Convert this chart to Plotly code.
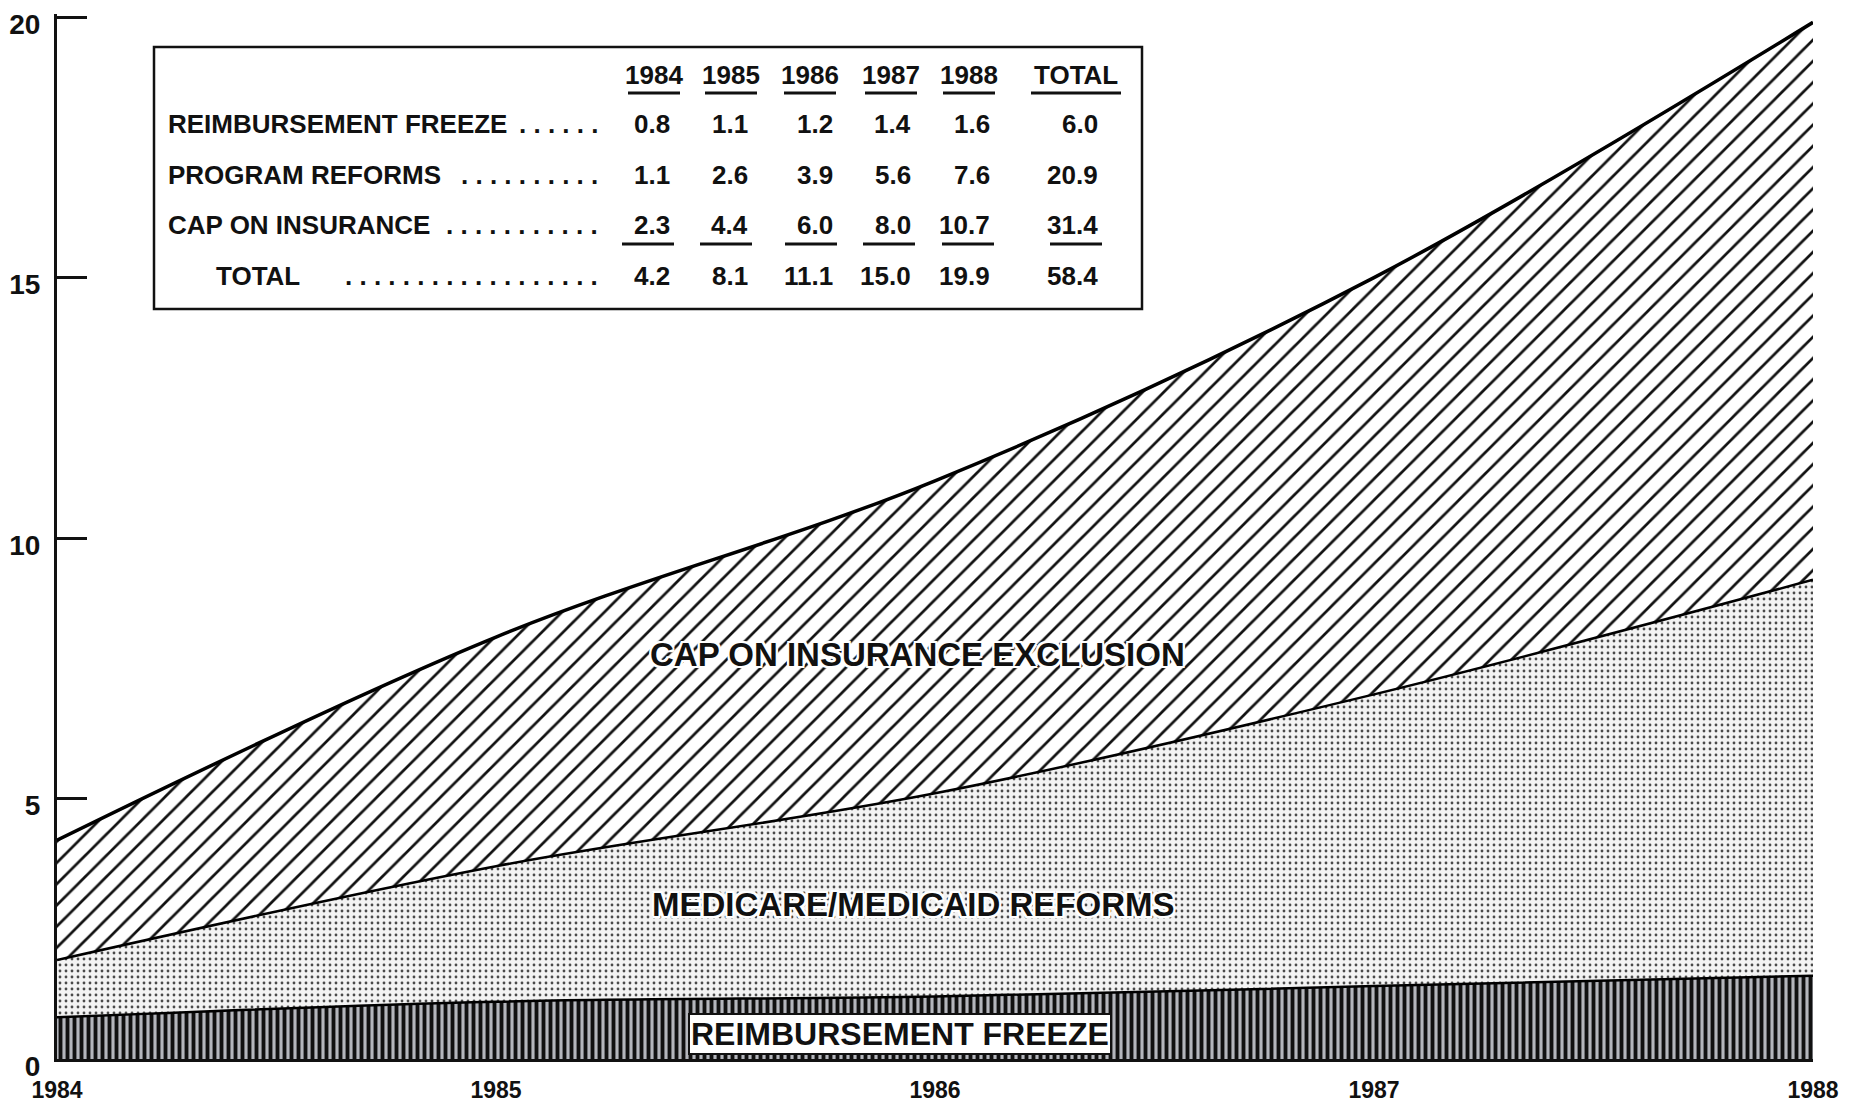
import plotly.graph_objects as go

# ---------------- data ----------------
years = [1984, 1985, 1986, 1987, 1988]
freeze = [0.8, 1.1, 1.2, 1.4, 1.6]
program = [1.1, 2.6, 3.9, 5.6, 7.6]
cap = [2.3, 4.4, 6.0, 8.0, 10.7]
year_totals = [4.2, 8.1, 11.1, 15.0, 19.9]

table_headers = ["1984", "1985", "1986", "1987", "1988", "TOTAL"]
row_labels = ["REIMBURSEMENT FREEZE", "PROGRAM REFORMS", "CAP ON INSURANCE", "TOTAL"]
row_totals = [6.0, 20.9, 31.4, 58.4]

y_ticks = [0, 5, 10, 15, 20]
x_ticks = years

area_labels = ["CAP ON INSURANCE EXCLUSION", "MEDICARE/MEDICAID REFORMS", "REIMBURSEMENT FREEZE"]

# ---------------- layout geometry ----------------
W, H = 1862, 1102          # browser window
OFF = 8                    # default page body margin
Y_MAX = 20.06
L, R, T, B = 57, 1813, 14, 1059   # plot area in window pixels


def px(x):
    return (x - L) / (R - L)


def py(y):
    return (B - y) / (B - T)


BOLD = "Liberation Sans, Arial, sans-serif"

fig = go.Figure()

fig.add_trace(go.Scatter(
    x=years, y=freeze, name="Reimbursement freeze", stackgroup="s",
    mode="lines", line=dict(color="black", width=2.5, shape="spline"),
    fillpattern=dict(shape="|", size=7, solidity=0.55, fgcolor="#111111",
                     bgcolor="#b4b6bc", fillmode="replace"),
))
fig.add_trace(go.Scatter(
    x=years, y=program, name="Medicare/Medicaid reforms", stackgroup="s",
    mode="lines", line=dict(color="black", width=2.5, shape="spline"),
    fillpattern=dict(shape=".", size=6, solidity=0.17, fgcolor="#4a4a4a",
                     bgcolor="#f3f3f3", fillmode="replace"),
))
fig.add_trace(go.Scatter(
    x=years, y=cap, name="Cap on insurance exclusion", stackgroup="s",
    mode="lines", line=dict(color="black", width=3.5, shape="spline"),
    fillpattern=dict(shape="/", size=15, solidity=0.18, fgcolor="#111111",
                     bgcolor="white", fillmode="replace"),
))

annotations = []

# area labels
halo = ("2px 2px 0 white, -2px -2px 0 white, 2px -2px 0 white, -2px 2px 0 white, "
        "0 2px 0 white, 0 -2px 0 white, 2px 0 0 white, -2px 0 0 white")
annotations.append(dict(x=1985.96, y=7.77, xref="x", yref="y", text=area_labels[0],
                        showarrow=False, font=dict(family=BOLD, size=33, color="#111", weight="bold",
                                                   shadow=halo)))
annotations.append(dict(x=1985.95, y=2.96, xref="x", yref="y", text=area_labels[1],
                        showarrow=False, font=dict(family=BOLD, size=33, color="#111", weight="bold",
                                                   shadow=halo)))
annotations.append(dict(x=1985.92, y=0.48, xref="x", yref="y", text=area_labels[2],
                        showarrow=False, bgcolor="white", bordercolor="#111", borderwidth=2,
                        borderpad=1,
                        font=dict(family=BOLD, size=32, color="#111", weight="bold")))

# ---------------- inset table ----------------
box = dict(x0=154, y0=47, x1=1142, y1=309)
header_cx = [654, 731, 810, 891, 969, 1076]
num_rx = [672, 750, 835, 913, 992, 1100]
row_y = [124, 175, 225, 276]
header_y = 75
label_x = [166, 166, 166, 214]
dots_right = 600
dots_n = [6, 10, 11, 18]
tfont = dict(family=BOLD, size=26, color="#111", weight="bold")

shapes = [dict(type="rect", xref="paper", yref="paper",
               x0=px(box["x0"]), x1=px(box["x1"]), y0=py(box["y1"]), y1=py(box["y0"]),
               line=dict(color="#111", width=2.5), fillcolor="white", layer="above")]

for h, cx in zip(table_headers, header_cx):
    annotations.append(dict(x=px(cx), y=py(header_y), xref="paper", yref="paper", text=h,
                            showarrow=False, xanchor="center", yanchor="middle", font=tfont))
    hw = 52 if h != "TOTAL" else 90
    shapes.append(dict(type="line", xref="paper", yref="paper",
                       x0=px(cx - hw / 2), x1=px(cx + hw / 2), y0=py(header_y + 18), y1=py(header_y + 18),
                       line=dict(color="#111", width=3)))

table_rows = [freeze + [row_totals[0]], program + [row_totals[1]], cap + [row_totals[2]],
              year_totals + [row_totals[3]]]
for i, (lab, vals) in enumerate(zip(row_labels, table_rows)):
    annotations.append(dict(x=px(label_x[i]), y=py(row_y[i]), xref="paper", yref="paper", text=lab,
                            showarrow=False, xanchor="left", yanchor="middle", font=tfont))
    annotations.append(dict(x=px(dots_right), y=py(row_y[i]), xref="paper", yref="paper",
                            text=" ".join(["."] * dots_n[i]),
                            showarrow=False, xanchor="right", yanchor="middle", font=tfont))
    for v, rx in zip(vals, num_rx):
        annotations.append(dict(x=px(rx), y=py(row_y[i]), xref="paper", yref="paper", text=f"{v:.1f}",
                                showarrow=False, xanchor="right", yanchor="middle", font=tfont))
        if i == 2:
            shapes.append(dict(type="line", xref="paper", yref="paper",
                               x0=px(rx - 50), x1=px(rx + 2), y0=py(row_y[i] + 19), y1=py(row_y[i] + 19),
                               line=dict(color="#111", width=3)))

fig.update_layout(
    template="none",
    width=W - OFF, height=H - OFF,
    margin=dict(l=L - OFF, r=W - R, t=T - OFF, b=H - B, autoexpand=False),
    paper_bgcolor="white", plot_bgcolor="white",
    showlegend=False,
    annotations=annotations,
    shapes=shapes,
    xaxis=dict(range=[1984, 1988], tickvals=x_ticks, ticktext=[str(v) for v in x_ticks],
               automargin=False,
               showgrid=False, zeroline=False, showline=True, linecolor="#111", linewidth=3,
               ticks="", ticklabelstandoff=8,
               tickfont=dict(family=BOLD, size=23, color="#111", weight="bold")),
    yaxis=dict(range=[0, Y_MAX], tickvals=y_ticks, ticktext=[str(v) for v in y_ticks],
               automargin=False,
               showgrid=False, zeroline=False, showline=True, linecolor="#111", linewidth=3,
               ticks="inside", ticklen=30, tickwidth=3, tickcolor="#111", ticklabelstandoff=8,
               ticklabelshift=7,
               tickfont=dict(family=BOLD, size=28, color="#111", weight="bold")),
)

fig.write_html("out.html")
